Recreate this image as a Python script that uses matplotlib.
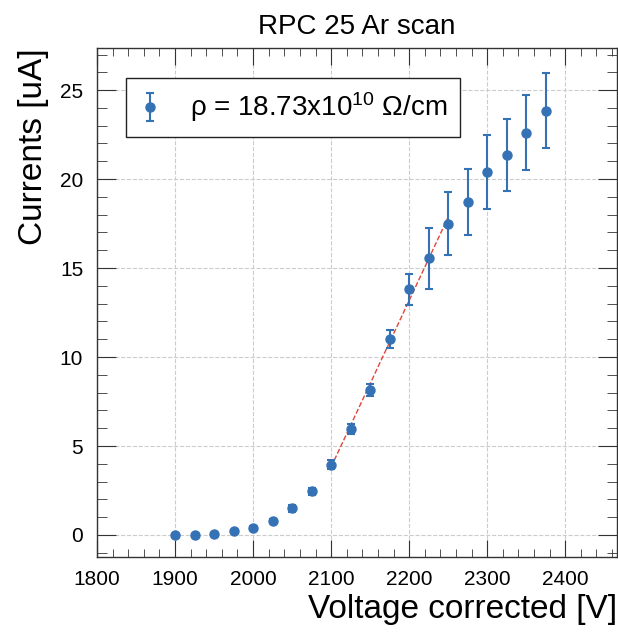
import numpy as np
import matplotlib
matplotlib.use("Agg")
import matplotlib.pyplot as plt
from matplotlib.ticker import MultipleLocator

plt.rcParams['font.family'] = ['Liberation Sans', 'DejaVu Sans']
plt.rcParams['mathtext.fontset'] = 'custom'
plt.rcParams['mathtext.rm'] = 'Liberation Sans'

# voltage scan (V) and measured currents (uA)
voltage = [1900, 1925, 1950, 1975, 2000, 2025, 2050, 2075, 2100, 2125,
           2150, 2175, 2200, 2225, 2250, 2275, 2300, 2325, 2350, 2375]
current = [0.0, 0.0, 0.05, 0.2, 0.4, 0.8, 1.5, 2.45, 3.95, 5.95,
           8.15, 11.0, 13.8, 15.55, 17.5, 18.7, 20.4, 21.35, 22.6, 23.85]
current_err = [0.05, 0.05, 0.05, 0.05, 0.08, 0.1, 0.2, 0.2, 0.25, 0.3,
               0.35, 0.5, 0.85, 1.7, 1.75, 1.87, 2.1, 2.0, 2.1, 2.1]

# points used for the linear fit
fit_lo, fit_hi = 2100, 2250
legend_label = r"ρ = 18.73x10$\mathregular{^{10}}$ Ω/cm"

voltage = np.array(voltage)
current = np.array(current)
sel = (voltage >= fit_lo) & (voltage <= fit_hi)
p = np.polyfit(voltage[sel], current[sel], 1)
xfit = np.array([fit_lo, fit_hi])

fig = plt.figure(figsize=(6.18, 6.33), dpi=100)
ax = fig.add_axes([0.157, 0.12, 0.841, 0.804])

blue = "#3572b5"
ax.errorbar(voltage, current, yerr=current_err, fmt="o", color=blue,
            markersize=6.5, elinewidth=1.5, capsize=3.2, capthick=1.5,
            label=legend_label, zorder=3)
ax.plot(xfit, np.polyval(p, xfit), linestyle="--", color="#e0453a",
        linewidth=1.0, zorder=2)

ax.set_xlim(1800, 2466)
ax.set_ylim(-1.24, 27.36)
ax.xaxis.set_major_locator(MultipleLocator(100))
ax.xaxis.set_minor_locator(MultipleLocator(20))
ax.yaxis.set_major_locator(MultipleLocator(5))
ax.yaxis.set_minor_locator(MultipleLocator(1))

ax.grid(True, which="major", linestyle="--", color="#cccccc", linewidth=0.8)
ax.set_axisbelow(True)

ax.tick_params(which="both", direction="in", top=True, right=True,
               color="#333333", labelsize=15)
ax.tick_params(axis="x", which="major", length=12, pad=9)
ax.tick_params(axis="x", which="minor", length=6)
ax.tick_params(axis="y", which="major", length=14, pad=10)
ax.tick_params(axis="y", which="minor", length=7)
for s in ax.spines.values():
    s.set_color("#333333")
    s.set_linewidth(1.0)

ax.set_title("RPC 25 Ar scan", fontsize=20, pad=10)
ax.set_xlabel("Voltage corrected [V]", fontsize=24, loc="right", labelpad=4)
ax.set_ylabel("Currents [uA]", fontsize=24, loc="top", labelpad=8)

leg = ax.legend(loc="upper left", bbox_to_anchor=(0.056, 0.941),
                borderaxespad=0, fontsize=20, fancybox=False,
                edgecolor="#222222", framealpha=1, handlelength=0.8,
                handletextpad=1.06, borderpad=0.45)
leg.get_frame().set_linewidth(1.0)

fig.savefig("out.png", dpi=100)
